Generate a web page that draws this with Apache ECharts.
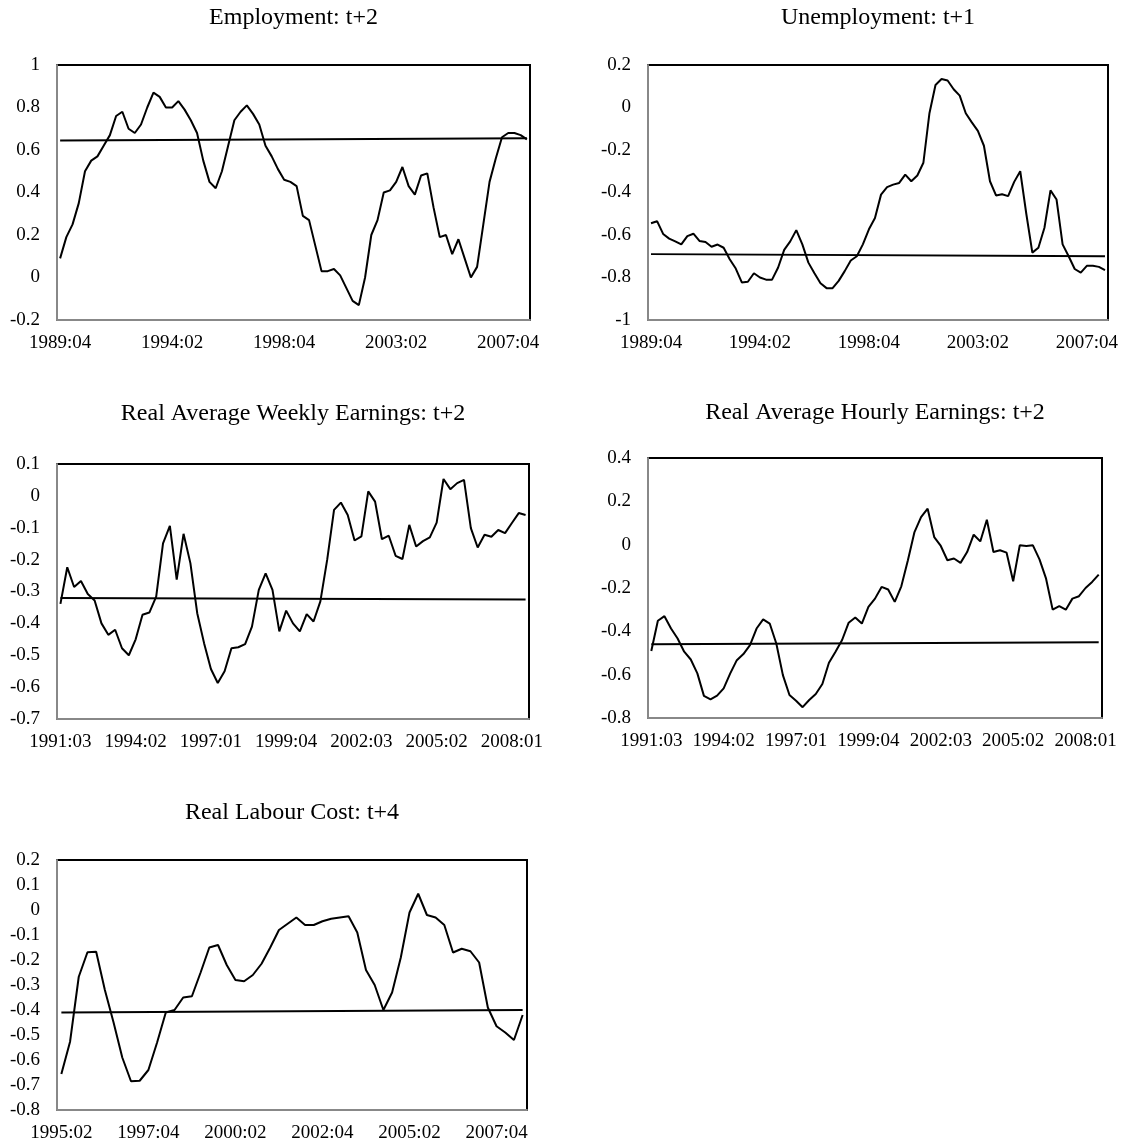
<!DOCTYPE html>
<html>
<head>
<meta charset="utf-8">
<script src="https://cdn.jsdelivr.net/npm/echarts@6/dist/echarts.min.js"></script>
<style>
  html, body { margin: 0; padding: 0; background: #fff; }
  #chart { width: 1132px; height: 1148px; }
</style>
</head>
<body>
<div id="chart"></div>
<script>
// quarterly series, all of them end in 2008:03
const employment = [
  0.09, 0.19, 0.25, 0.35, 0.5, 0.55, 0.57, 0.62, 0.67, 0.76, 0.78, 0.7, 0.68, 0.72, 0.8, 0.87,
  0.85, 0.8, 0.8, 0.83, 0.79, 0.74, 0.68, 0.55, 0.45, 0.42, 0.5, 0.62, 0.74, 0.78, 0.81, 0.77,
  0.72, 0.62, 0.57, 0.51, 0.46, 0.45, 0.43, 0.29, 0.27, 0.15, 0.03, 0.03, 0.04, 0.01, -0.05, -0.11,
  -0.13, 0.0, 0.2, 0.27, 0.4, 0.41, 0.45, 0.52, 0.43, 0.39, 0.48, 0.49, 0.33, 0.19, 0.2, 0.11,
  0.18, 0.09, 0.0, 0.05, 0.25, 0.45, 0.56, 0.66, 0.68, 0.68, 0.67, 0.65
];
const unemployment = [
  -0.545, -0.535, -0.595, -0.617, -0.63, -0.644, -0.605, -0.594, -0.628, -0.633, -0.655, -0.645,
  -0.66, -0.714, -0.758, -0.823, -0.82, -0.78, -0.8, -0.81, -0.81, -0.753, -0.67, -0.63, -0.577,
  -0.644, -0.73, -0.78, -0.827, -0.85, -0.85, -0.816, -0.77, -0.72, -0.7, -0.644, -0.573, -0.52,
  -0.41, -0.375, -0.363, -0.355, -0.316, -0.347, -0.32, -0.26, -0.027, 0.106, 0.134, 0.127, 0.086,
  0.056, -0.027, -0.07, -0.11, -0.18, -0.347, -0.414, -0.408, -0.417, -0.35, -0.3, -0.5, -0.683,
  -0.66, -0.566, -0.39, -0.433, -0.644, -0.7, -0.76, -0.777, -0.745, -0.745, -0.75, -0.765
];
const weeklyEarnings = [
  -0.339, -0.224, -0.286, -0.267, -0.308, -0.328, -0.4, -0.436, -0.42, -0.478, -0.5, -0.45,
  -0.373, -0.366, -0.316, -0.149, -0.094, -0.263, -0.119, -0.211, -0.368, -0.462, -0.543, -0.587,
  -0.55, -0.478, -0.475, -0.465, -0.41, -0.295, -0.243, -0.295, -0.425, -0.36, -0.4, -0.425,
  -0.371, -0.394, -0.331, -0.2, -0.044, -0.021, -0.06, -0.14, -0.127, 0.014, -0.018, -0.136,
  -0.125, -0.188, -0.198, -0.091, -0.159, -0.142, -0.13, -0.084, 0.053, 0.021, 0.04, 0.05,
  -0.101, -0.162, -0.122, -0.128, -0.107, -0.117, -0.085, -0.054, -0.06
];
const hourlyEarnings = [
  -0.491, -0.351, -0.33, -0.387, -0.433, -0.494, -0.53, -0.594, -0.698, -0.714, -0.697, -0.663,
  -0.594, -0.533, -0.505, -0.464, -0.387, -0.345, -0.364, -0.456, -0.602, -0.694, -0.72, -0.75,
  -0.717, -0.689, -0.643, -0.545, -0.494, -0.44, -0.36, -0.336, -0.364, -0.287, -0.249, -0.195,
  -0.207, -0.264, -0.192, -0.072, 0.058, 0.127, 0.166, 0.035, -0.006, -0.072, -0.064, -0.084,
  -0.034, 0.046, 0.015, 0.115, -0.034, -0.026, -0.037, -0.169, -0.003, -0.006, -0.003, -0.068,
  -0.157, -0.3, -0.284, -0.3, -0.249, -0.238, -0.2, -0.172, -0.138
];
const labourCost = [
  -0.656, -0.527, -0.267, -0.169, -0.167, -0.32, -0.45, -0.59, -0.685, -0.683, -0.64, -0.53,
  -0.41, -0.4, -0.35, -0.345, -0.25, -0.15, -0.14, -0.22, -0.28, -0.285, -0.26, -0.215, -0.15,
  -0.08, -0.055, -0.03, -0.06, -0.06, -0.045, -0.035, -0.03, -0.025, -0.09, -0.24, -0.3, -0.4,
  -0.33, -0.19, -0.01, 0.065, -0.02, -0.03, -0.06, -0.17, -0.155, -0.165, -0.21, -0.39, -0.465,
  -0.49, -0.52, -0.42
];

// the near-flat reference line of each panel: value at first and at last quarter
const employmentRef = [0.645, 0.655];
const unemploymentRef = [-0.69, -0.70];
const weeklyRef = [-0.32, -0.325];
const hourlyRef = [-0.46, -0.45];
const labourRef = [-0.41, -0.40];

const titles = [
  'Employment: t+2',
  'Unemployment: t+1',
  'Real Average Weekly Earnings: t+2',
  'Real Average Hourly Earnings: t+2',
  'Real Labour Cost: t+4'
];

// first quarter of each series: [year, quarter]
const starts = [[1989, 4], [1989, 4], [1991, 3], [1991, 3], [1995, 2]];
// y axis [min, max, step]
const yScales = [[-0.2, 1, 0.2], [-1, 0.2, 0.2], [-0.7, 0.1, 0.1], [-0.8, 0.4, 0.2], [-0.8, 0.2, 0.1]];
// one x label every n quarters
const labelEvery = [18, 18, 11, 11, 10];

const seriesList = [employment, unemployment, weeklyEarnings, hourlyEarnings, labourCost];
const refList = [employmentRef, unemploymentRef, weeklyRef, hourlyRef, labourRef];

// plot boxes in px: left, top, width, height
const boxes = [
  [57, 65, 473, 255],
  [648, 65, 460, 255],
  [57, 464, 472, 255],
  [648, 458, 454, 260],
  [57, 860, 470, 250]
];
const titleY = [18, 18, 414, 413, 813];

function quarters(year, q, n) {
  const res = [];
  for (let i = 0; i < n; i++) {
    res.push(`${year}:0${q}`);
    q++;
    if (q > 4) { q = 1; year++; }
  }
  return res;
}

const FONT = '"Liberation Serif", "DejaVu Serif", serif';
const chart = echarts.init(document.getElementById('chart'), null, { renderer: 'canvas' });

const grid = [], xAxis = [], yAxis = [], series = [], graphic = [];
seriesList.forEach((data, i) => {
  const [left, top, width, height] = boxes[i];
  const cats = quarters(starts[i][0], starts[i][1], data.length);
  grid.push({ left, top, width, height, show: true, borderColor: '#000', borderWidth: 2, backgroundColor: 'transparent' });
  xAxis.push({
    type: 'category', gridIndex: i, data: cats, boundaryGap: true,
    axisLine: { onZero: false, lineStyle: { color: '#888', width: 2 } },
    axisTick: { show: false },
    axisLabel: { interval: labelEvery[i] - 1, margin: 14, fontFamily: FONT, fontSize: 19, color: '#000' },
    splitLine: { show: false }
  });
  yAxis.push({
    type: 'value', gridIndex: i, min: yScales[i][0], max: yScales[i][1], interval: yScales[i][2],
    axisLine: { show: true, onZero: false, lineStyle: { color: '#888', width: 2 } },
    axisTick: { show: false },
    axisLabel: { margin: 17, fontFamily: FONT, fontSize: 19, color: '#000' },
    splitLine: { show: false }
  });
  series.push({
    type: 'line', xAxisIndex: i, yAxisIndex: i, data, symbol: 'none',
    lineStyle: { color: '#000', width: 2 },
    markLine: {
      silent: true, symbol: ['none', 'none'], label: { show: false },
      lineStyle: { color: '#000', width: 2, type: 'solid' },
      data: [[{ coord: [cats[0], refList[i][0]] }, { coord: [cats[cats.length - 1], refList[i][1]] }]]
    }
  });
  graphic.push({
    type: 'text', x: left + width / 2, y: titleY[i],
    style: { text: titles[i], font: `24px ${FONT}`, fill: '#000', align: 'center', verticalAlign: 'middle' }
  });
});

chart.setOption({ animation: false, grid, xAxis, yAxis, series, graphic });
</script>
</body>
</html>
